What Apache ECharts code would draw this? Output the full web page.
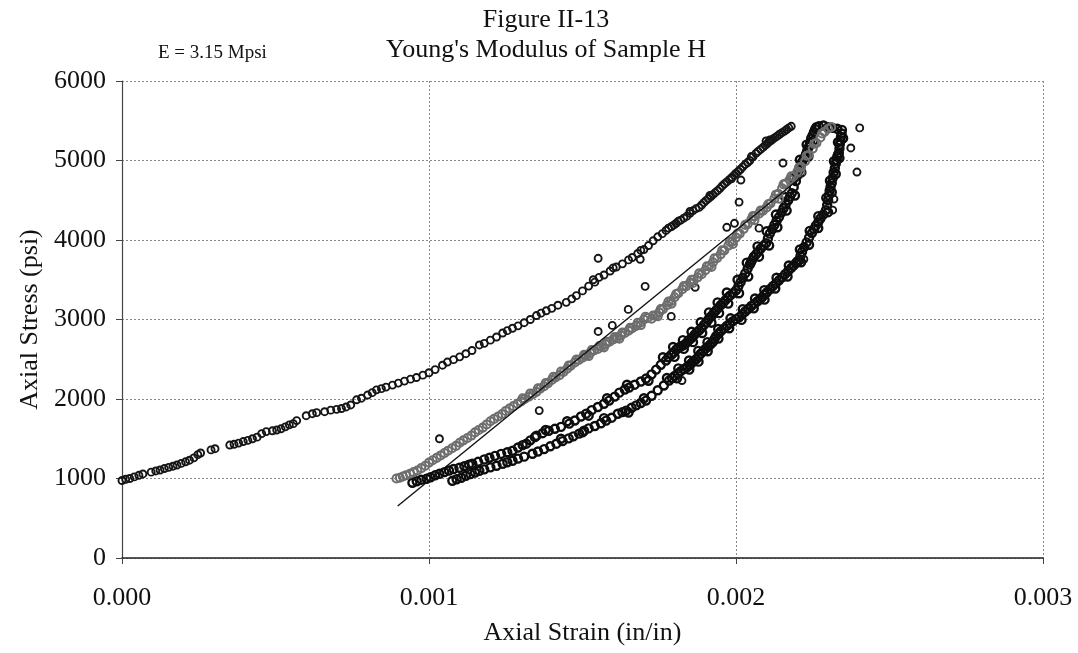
<!DOCTYPE html>
<html>
<head>
<meta charset="UTF-8">
<title>Figure II-13</title>
<script type="text/javascript" src="https://cdn.jsdelivr.net/npm/echarts@6/dist/echarts.min.js"></script>
<style>
  body{margin:0;background:#fff}
</style>
</head>
<body>
<!-- chart container -->
<div id="main" style="width:1078px;height:653px"></div>
<script type="text/javascript">
// strain values are in microstrain (1e-6 in/in), stress in psi
var loadCurve = [
  [0,975],[12,990],[25,1000],[40,1020],[55,1040],[68,1057],[95,1080],[110,1095],[124,1107],[138,1125],
  [152,1140],[166,1155],[179,1170],[193,1190],[207,1210],[220,1230],[234,1260],[247,1300],[256,1321],[290,1360],
  [303,1375],[351,1421],[365,1430],[380,1445],[395,1465],[410,1480],[425,1500],[440,1520],[455,1565],[470,1590],
  [490,1600],[504,1610],[518,1625],[532,1650],[545,1675],[558,1690],[569,1728],[600,1790],[620,1815],[634,1828],
  [660,1840],[680,1860],[699,1870],[715,1880],[730,1900],[745,1925],[764,1990],[780,2010],[800,2050],[815,2080],
  [829,2115],[845,2130],[860,2150],[881,2175],[900,2200],[920,2225],[940,2250],[959,2270],[980,2300],[1000,2330],
  [1020,2370],[1044,2425],[1060,2465],[1080,2495],[1100,2530],[1120,2570],[1140,2610],[1164,2680],[1180,2700],[1200,2740],
  [1220,2780],[1240,2830],[1255,2860],[1272,2890],[1290,2920],[1310,2960],[1330,3000],[1350,3050],[1365,3080],[1382,3110],
  [1400,3140],[1420,3180],[1447,3216],[1465,3260],[1480,3300],[1500,3360],[1520,3420],[1540,3470],[1554,3530],[1570,3560],
  [1590,3610],[1610,3660],[1630,3700],[1650,3750],[1662,3780],[1680,3830],[1700,3880],[1715,3930],[1730,3990],[1745,4040],
  [1760,4080],[1772,4120],[1790,4170],[1805,4210],[1820,4250],[1840,4300],[1860,4370],[1880,4410],[1895,4470],[1910,4520],
  [1925,4570],[1940,4620],[1955,4680],[1970,4730],[1987,4790],[2000,4840],[2015,4890],[2030,4950],[2045,5000],[2065,5090],
  [2080,5140],[2095,5190],[2107,5230],[2120,5270],[2135,5310],[2150,5350],[2165,5390],[2180,5430],
  [1780,4150],[1798,4190],[1812,4235],[1830,4275],[1850,4335],[1870,4395],[1888,4440],[1902,4495],[1918,4545],[1932,4595],
  [1948,4650],[1962,4705],[1978,4760],[1994,4815],[2008,4865],[2022,4920],[2038,4975],[2055,5045],[2072,5115],[2088,5165],
  [2101,5210],[2114,5250],[2128,5290],[2142,5330],[2158,5370],[2172,5410],
  [1535,3500],[1600,3650],[1690,3870],[1850,4360],[1915,4560],[1985,4770],[2050,5050],[2110,5260]
];
var reloadCurve = [
  [894,1000],[905,1010],[915,1025],[925,1040],[938,1060],[950,1080],[962,1100],[975,1130],[988,1160],[1000,1200],
  [1012,1230],[1025,1260],[1038,1290],[1050,1320],[1062,1350],[1075,1380],[1088,1410],[1100,1450],[1112,1480],[1125,1510],
  [1138,1540],[1150,1580],[1162,1610],[1175,1640],[1188,1680],[1200,1720],[1212,1750],[1225,1780],[1238,1810],[1250,1850],
  [1262,1880],[1275,1910],[1288,1940],[1300,1970],[1312,2000],[1325,2030],[1338,2060],[1350,2090],[1362,2130],[1375,2160],
  [1388,2200],[1400,2240],[1412,2270],[1425,2300],[1438,2340],[1450,2380],[1462,2420],[1475,2460],[1488,2490],[1500,2520],
  [1512,2550],[1525,2580],[1538,2610],[1550,2630],[1562,2660],[1575,2690],[1588,2720],[1600,2750],[1612,2770],[1625,2800],
  [1638,2830],[1650,2860],[1662,2890],[1675,2920],[1688,2960],[1700,3000],[1712,3020],[1725,3010],[1738,3050],[1750,3090],
  [1762,3130],[1775,3180],[1788,3230],[1800,3280],[1812,3330],[1825,3380],[1838,3420],[1850,3460],[1862,3500],[1875,3530],
  [1888,3570],[1900,3620],[1912,3670],[1925,3720],[1938,3770],[1950,3820],[1962,3870],[1975,3930],[1988,3980],[2000,4030],
  [2012,4080],[2025,4140],[2038,4200],[2050,4260],[2062,4300],[2075,4330],[2088,4370],[2100,4410],[2112,4460],[2125,4520],
  [2138,4580],[2150,4650],[2162,4710],[2175,4760],[2188,4800],[2200,4860],[2212,4920],[2225,4990],[2237,5070],[2250,5150],
  [2262,5220],[2275,5290],[2288,5360],[2300,5400],[2310,5420],
  [1305,2010],[1330,2070],[1355,2135],[1380,2200],[1405,2280],[1430,2345],[1455,2420],[1480,2495],[1505,2555],[1530,2615],
  [1555,2665],[1580,2720],[1605,2780],[1630,2835],[1655,2895],[1680,2960],[1705,3035],[1730,3050],[1755,3130],[1780,3225],
  [1805,3320],[1830,3420],[1855,3500],[1880,3580],[1905,3670],[1930,3770],[1955,3870],[1980,3980],[2005,4080],[2030,4190],
  [2055,4300],[2080,4370],[2105,4450],[2130,4570],[2155,4700],[2180,4800],[2205,4910],[2230,5060],[2255,5210],[2280,5340],
  [1520,2540],[1570,2650],[1620,2760],[1690,2930],[1745,3040],[1790,3200],[1860,3460],[1920,3660],[1990,3950],[2060,4250],
  [2140,4520],[2210,4850]
];
var unloadInner = [
  [946,946],[960,965],[975,985],[992,996],[1005,1015],[1020,1040],[1034,1059],[1050,1080],[1065,1100],[1080,1120],
  [1099,1135],[1115,1155],[1130,1175],[1141,1185],[1160,1210],[1180,1240],[1197,1261],[1215,1285],[1235,1310],[1255,1330],
  [1272,1349],[1290,1390],[1305,1420],[1317,1438],[1330,1480],[1345,1520],[1350,1538],[1370,1570],[1390,1600],[1410,1625],
  [1430,1650],[1457,1690],[1475,1730],[1495,1780],[1512,1816],[1530,1860],[1550,1900],[1570,1940],[1587,1980],[1605,2030],
  [1620,2080],[1638,2120],[1652,2144],[1670,2180],[1690,2220],[1707,2257],[1725,2310],[1740,2370],[1755,2430],[1772,2484],
  [1790,2560],[1805,2620],[1820,2660],[1837,2699],[1850,2750],[1865,2810],[1880,2863],[1895,2930],[1910,3000],[1922,3052],
  [1935,3115],[1950,3180],[1965,3240],[1980,3300],[2000,3367],[2015,3470],[2030,3580],[2045,3690],[2052,3745],[2065,3820],
  [2080,3890],[2098,3960],[2110,4080],[2125,4190],[2140,4288],[2155,4400],[2170,4500],[2182,4590],[2195,4740],[2205,4880],
  [2215,4980],[2228,5080],[2237,5170],[2245,5280],[2254,5360],[2262,5420],[2270,5430],[2285,5440],[2300,5420],[2315,5410],
  [2330,5400],
  [1780,2525],[1797,2585],[1812,2645],[1828,2675],[1844,2730],[1858,2775],[1872,2840],[1888,2895],[1903,2960],[1916,3030],
  [1928,3085],[1943,3150],[1957,3205],[1973,3275],[1990,3330],[2008,3420],[2022,3525],[2038,3640],[2048,3715],[2058,3790],
  [2072,3850],[2090,3930],[2104,4020],[2118,4135],[2132,4240],[2148,4345],[2162,4450],[2176,4545],[2188,4665],[2200,4810],
  [2210,4930],[2222,5030],[2232,5125],[2241,5225],[2250,5320],[2258,5395],
  [1762,2525],[1800,2530],[1795,2655],[1830,2630],[1827,2740],[1860,2715],[1855,2845],[1890,2830],[1885,2965],[1920,2960],
  [1912,3090],[1945,3080],[1940,3215],[1975,3200],[1970,3340],[2010,3330],[2005,3500],[2040,3540],[2035,3715],[2075,3790],
  [2070,3920],[2108,3930],[2100,4110],[2135,4160],[2130,4320],[2165,4370],[2160,4540],[2192,4560],[2187,4770],[2213,4850],
  [2208,5010],[2236,5050],[2230,5200],[2252,5250],[1645,2180],[1715,2230],[1580,2010],[1520,1790],[1450,1720],[1380,1610]
];
var unloadOuter = [
  [1076,971],[1090,990],[1105,1010],[1120,1035],[1135,1055],[1150,1075],[1164,1097],[1180,1115],[1200,1140],[1220,1160],
  [1240,1185],[1255,1205],[1272,1223],[1290,1250],[1310,1275],[1337,1311],[1355,1340],[1375,1370],[1395,1405],[1415,1438],
  [1435,1470],[1455,1505],[1470,1530],[1489,1564],[1505,1600],[1520,1630],[1540,1660],[1560,1695],[1577,1728],[1595,1765],
  [1615,1815],[1630,1835],[1642,1854],[1660,1890],[1675,1920],[1690,1950],[1707,1980],[1725,2040],[1745,2110],[1765,2170],
  [1782,2232],[1800,2290],[1820,2350],[1840,2400],[1855,2450],[1870,2500],[1885,2570],[1900,2630],[1915,2680],[1925,2720],
  [1935,2790],[1950,2850],[1970,2920],[1990,2980],[2010,3027],[2030,3100],[2050,3170],[2070,3230],[2085,3279],[2100,3340],
  [2120,3420],[2140,3493],[2160,3570],[2180,3650],[2195,3710],[2205,3745],[2215,3850],[2230,3970],[2247,4086],[2260,4180],
  [2275,4270],[2293,4376],[2300,4500],[2305,4620],[2312,4716],[2318,4850],[2325,4960],[2330,5050],[2335,5095],[2338,5200],
  [2342,5300],[2345,5385],
  [1792,2262],[1810,2320],[1830,2378],[1848,2425],[1862,2478],[1878,2535],[1893,2600],[1908,2655],[1920,2700],[1930,2755],
  [1942,2820],[1960,2885],[1980,2950],[2000,3005],[2020,3065],[2040,3135],[2060,3200],[2078,3255],[2092,3310],[2110,3380],
  [2130,3455],[2150,3530],[2170,3610],[2188,3680],[2200,3730],[2210,3800],[2222,3910],[2238,4030],[2254,4135],[2268,4225],
  [2284,4320],[2297,4440],[2302,4560],[2308,4670],[2315,4780],[2322,4905],[2328,5005],[2333,5075],[2337,5150],[2340,5250],
  [2344,5340],
  [1775,2265],[1808,2260],[1812,2385],[1848,2370],[1847,2485],[1878,2470],[1877,2605],[1908,2600],[1907,2715],[1943,2760],
  [1942,2880],[1978,2890],[1982,3015],[2018,2995],[2022,3130],[2058,3140],[2062,3265],[2093,3250],[2092,3370],[2128,3390],
  [2132,3525],[2168,3540],[2172,3680],[2212,3720],[2208,3880],[2238,3940],[2240,4115],[2268,4150],[2268,4300],[2300,4350],
  [2294,4530],[2312,4600],[2306,4745],[2325,4830],[2319,4990],[2337,5030],[2332,5230],[2349,5280],[1700,2010],[1650,1830],
  [1570,1760],[1500,1580],[1430,1500]
];
var strayPoints = [
  [1551,3770],[1704,3417],[1649,3127],[1551,2850],[1597,2926],[1789,3039],[1688,3758],[1867,3405],[1824,2232],[1034,1500],
  [1359,1854],[2403,5410],[2374,5158],[2394,4855],[2319,4515],[2315,4376],[2221,3758],[2010,4477],[2153,4968],[2075,4149],
  [1970,4160],[1995,4210],[2098,5246],[2016,4754]
];
// fitted modulus line, end points
var fitLine = [[898,654],[2222,4820]];

function toStrain(arr){
  return arr.map(function(p){ return [p[0] / 1e6, p[1]]; });
}

var serif = 'Liberation Serif';
var myChart = echarts.init(document.getElementById('main'));

function ringSeries(data, border, width, size, z){
  return {
    type: 'scatter',
    data: toStrain(data),
    symbol: 'circle',
    symbolSize: size,
    z: z,
    itemStyle: {color: 'rgba(255,255,255,0)', borderColor: border, borderWidth: width, opacity: 1},
    emphasis: {disabled: true}
  };
}

var option = {
  animation: false,
  backgroundColor: '#fff',
  title: [{
    text: "Figure II-13\nYoung's Modulus of Sample H",
    left: 541, top: 0, textAlign: 'center',
    textStyle: {fontFamily: serif, fontSize: 26, fontWeight: 'normal', color: '#111', lineHeight: 30}
  }, {
    text: 'E = 3.15 Mpsi',
    left: 153, top: 39,
    textStyle: {fontFamily: serif, fontSize: 19, fontWeight: 'normal', color: '#111'}
  }],
  grid: {left: 122, right: 35, top: 81, bottom: 95},
  xAxis: {
    type: 'value', min: 0, max: 0.003, interval: 0.001,
    name: 'Axial Strain (in/in)', nameLocation: 'middle', nameGap: 62,
    nameTextStyle: {fontFamily: serif, fontSize: 26, color: '#111'},
    axisLine: {lineStyle: {color: '#222', width: 1.5}},
    axisTick: {show: true, length: 6, lineStyle: {color: '#444'}},
    axisLabel: {fontFamily: serif, fontSize: 26, color: '#111', margin: 27,
      formatter: function(v){ return v.toFixed(3); }},
    splitLine: {show: true, lineStyle: {color: '#888', type: [2, 2], width: 1}}
  },
  yAxis: {
    type: 'value', min: 0, max: 6000, interval: 1000,
    name: 'Axial Stress (psi)', nameLocation: 'middle', nameGap: 78,
    nameTextStyle: {fontFamily: serif, fontSize: 26, color: '#111'},
    axisLine: {show: true, lineStyle: {color: '#444', width: 1.2}},
    axisTick: {show: true, length: 6, lineStyle: {color: '#444'}},
    axisLabel: {fontFamily: serif, fontSize: 26, color: '#111', margin: 16,
      formatter: function(v){ return String(v); }},
    splitLine: {show: true, lineStyle: {color: '#888', type: [2, 2], width: 1}}
  },
  series: [
    ringSeries(loadCurve, '#151515', 1.9, 7, 3),
    ringSeries(unloadInner, '#0d0d0d', 2.4, 8, 3),
    ringSeries(unloadOuter, '#0d0d0d', 2.4, 8, 3),
    ringSeries(strayPoints, '#151515', 1.9, 7, 3),
    ringSeries(reloadCurve, '#6e6e6e', 2.1, 8, 4),
    {
      type: 'line',
      data: toStrain(fitLine),
      symbol: 'none',
      z: 5,
      lineStyle: {color: '#111', width: 1.4},
      emphasis: {disabled: true}
    }
  ]
};

myChart.setOption(option);
</script>
</body>
</html>
